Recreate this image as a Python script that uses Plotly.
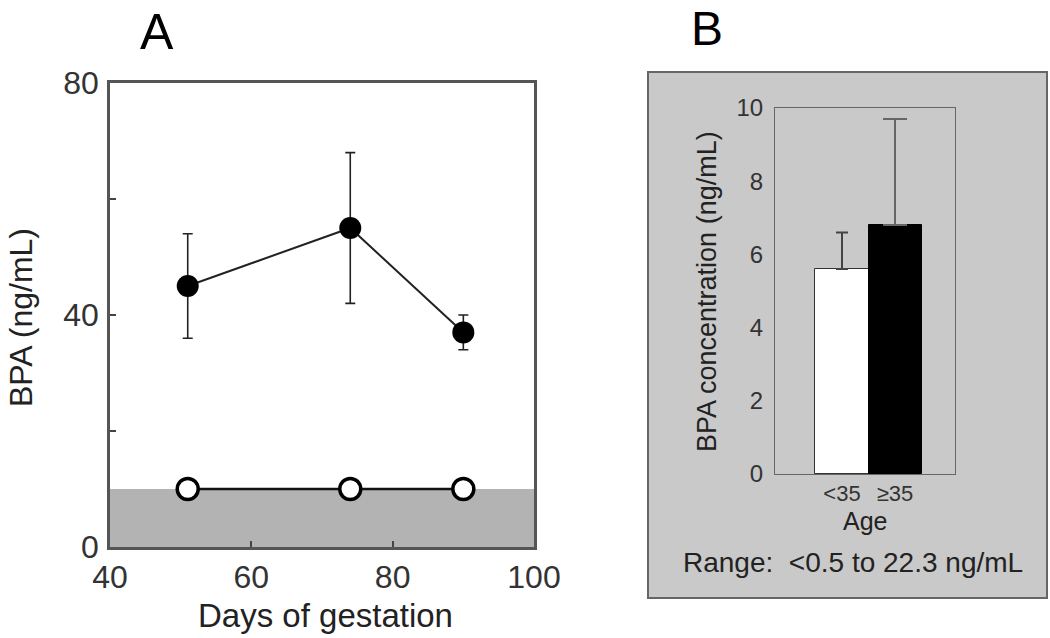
import plotly.graph_objects as go

# Panel A data
days = [51, 74, 90]
bpa_mean = [45, 55, 37]
bpa_err = [9, 13, 3]
control_vals = [10, 10, 10]
lod = 10

# Panel B data
age_groups = ["&lt;35", "≥35"]
age_pos = [0, 1]
conc_mean = [5.6, 6.8]
conc_err = [1.0, 2.9]

FONT = "Arial, Liberation Sans, sans-serif"
W, H = 1050, 638

def fx(x):
    return x / W

def fy(y):
    return 1 - y / H

fig = go.Figure()

# Panel A traces
fig.add_trace(go.Scatter(
    x=days, y=control_vals, mode="lines+markers",
    line=dict(color="#111", width=2.5),
    marker=dict(size=21, color="white", line=dict(color="black", width=3.5)),
    xaxis="x", yaxis="y", showlegend=False, cliponaxis=False))
fig.add_trace(go.Scatter(
    x=days, y=bpa_mean, mode="lines+markers",
    line=dict(color="#222", width=2),
    marker=dict(size=22, color="black"),
    error_y=dict(type="data", array=bpa_err, color="#222", thickness=1.6, width=5),
    xaxis="x", yaxis="y", showlegend=False))

# Panel B traces
fig.add_trace(go.Bar(
    x=[age_pos[0]], y=[conc_mean[0]], width=1,
    marker=dict(color="white", line=dict(color="#333", width=1)),
    error_y=dict(type="data", symmetric=False, array=[conc_err[0]], arrayminus=[0],
                 color="#444", thickness=2, width=6),
    xaxis="x2", yaxis="y2", showlegend=False))
fig.add_trace(go.Bar(
    x=[age_pos[1]], y=[conc_mean[1]], width=1,
    marker=dict(color="black", line=dict(color="black", width=1)),
    error_y=dict(type="data", symmetric=False, array=[conc_err[1]], arrayminus=[0],
                 color="#666", thickness=2, width=12),
    xaxis="x2", yaxis="y2", showlegend=False))

shapes = [
    # gray box around panel B
    dict(type="rect", xref="paper", yref="paper",
         x0=fx(648), x1=fx(1047), y0=fy(598), y1=fy(72),
         fillcolor="#c9c9c9", line=dict(color="#666", width=2), layer="below"),
    # LOD band in panel A
    dict(type="rect", xref="x", yref="y", x0=40, x1=100, y0=0, y1=lod,
         fillcolor="#b3b3b3", line=dict(width=0), layer="below"),
]

def ann(text, x, y, size, angle=0, color="#222"):
    return dict(text=text, x=fx(x), y=fy(y), xref="paper", yref="paper",
                xanchor="center", yanchor="middle", showarrow=False, textangle=angle,
                font=dict(family=FONT, size=size, color=color))

annotations = [
    ann("A", 157, 32, 50, color="black"),
    ann("B", 707, 28, 48, color="black"),
    ann("BPA (ng/mL)", 21, 318, 32, angle=-90),
    ann("Days of gestation", 325, 615, 33),
    ann("BPA concentration (ng/mL)", 707, 292, 27, angle=-90),
    ann("Age", 865, 521, 25),
    ann("Range:  &lt;0.5 to 22.3 ng/mL", 853, 562, 28),
]

fig.update_layout(
    template="none",
    width=W, height=H,
    margin=dict(l=0, r=0, t=0, b=0, pad=0),
    paper_bgcolor="white", plot_bgcolor="rgba(0,0,0,0)",
    font=dict(family=FONT, color="#222"),
    bargap=0,
    shapes=shapes, annotations=annotations,
    xaxis=dict(domain=[fx(110), fx(534)], range=[40, 100], anchor="y", automargin=False,
               tickvals=[40, 60, 80, 100], ticks="inside", ticklen=6, tickwidth=2,
               tickcolor="#444", showgrid=False, zeroline=False,
               showline=True, linecolor="#555", linewidth=2.5, mirror=True,
               tickfont=dict(size=32, color="#333"), ticklabelstandoff=0),
    yaxis=dict(domain=[fy(547), fy(83)], range=[0, 80], anchor="x", automargin=False,
               tickvals=[0, 20, 40, 60, 80], ticktext=["0", "", "40", "", "80"],
               ticks="inside", ticklen=6, tickwidth=2, tickcolor="#444",
               showgrid=False, zeroline=False,
               showline=True, linecolor="#555", linewidth=2.5, mirror=True,
               tickfont=dict(size=32, color="#333"), ticklabelstandoff=2),
    xaxis2=dict(domain=[fx(775), fx(955)], range=[-1.264, 2.132], anchor="y2", automargin=False,
                tickvals=age_pos, ticktext=age_groups, ticks="",
                showgrid=False, zeroline=False,
                showline=True, linecolor="#666", linewidth=1, mirror=True,
                tickfont=dict(size=22, color="#333"), ticklabelstandoff=0),
    yaxis2=dict(domain=[fy(474), fy(108)], range=[0, 10], anchor="x2", automargin=False,
                tickvals=[0, 2, 4, 6, 8, 10], ticks="",
                showgrid=False, zeroline=False,
                showline=True, linecolor="#666", linewidth=1, mirror=True,
                tickfont=dict(size=24, color="#333"), ticklabelstandoff=6),
)

# remove the default 8px page margin so the figure fills the window exactly
fig.write_html("out.html", config={"displayModeBar": False},
               post_script="document.body.style.margin='0';")
